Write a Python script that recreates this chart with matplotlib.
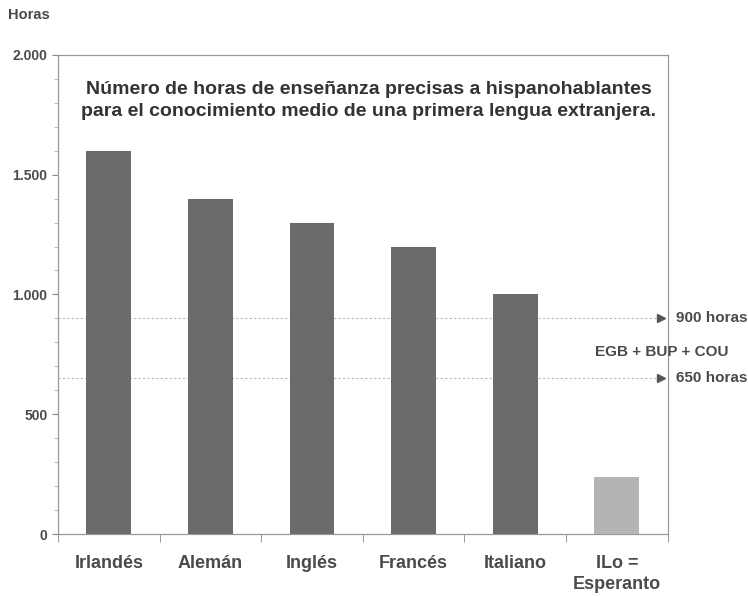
import matplotlib.pyplot as plt
import matplotlib.transforms as mtransforms
from matplotlib.ticker import FuncFormatter, MultipleLocator

categorias = ['Irlandés', 'Alemán', 'Inglés', 'Francés', 'Italiano', 'ILo =\nEsperanto']
horas = [1600, 1400, 1300, 1200, 1000, 240]
colores = ['#6b6b6b'] * 5 + ['#b4b4b4']
limites = [900, 650]
limites_txt = ['900 horas', '650 horas']

plt.rcParams['font.family'] = ['Liberation Sans', 'DejaVu Sans']
gris = '#4a4a4a'

fig = plt.figure(figsize=(7.48, 5.96), dpi=100)
ax = fig.add_axes([0.0775, 0.104, 0.815, 0.804])

x = range(len(categorias))
ax.bar(x, horas, width=0.44, color=colores, zorder=3)

ax.set_xlim(-0.5, len(categorias) - 0.5)
ax.set_ylim(0, 2000)
ax.yaxis.set_major_locator(MultipleLocator(500))
ax.yaxis.set_minor_locator(MultipleLocator(100))
ax.yaxis.set_major_formatter(FuncFormatter(lambda v, p: f'{int(v):,}'.replace(',', '.')))
ax.set_xticks([i + 0.5 for i in range(-1, len(categorias))], minor=True)
ax.set_xticks(list(x))
ax.set_xticklabels(categorias, fontsize=13, fontweight='bold', color=gris,
                   linespacing=1.3)
ax.tick_params(axis='x', which='major', length=0, pad=15)
ax.tick_params(axis='x', which='minor', length=6, color='#888888', direction='out')
ax.tick_params(axis='y', which='major', labelsize=10, labelcolor=gris, length=4, color='#888888')
ax.tick_params(axis='y', which='minor', length=3, color='#aaaaaa')
for lab in ax.get_yticklabels():
    lab.set_fontweight('bold')
for s in ax.spines.values():
    s.set_color('#999999')
    s.set_linewidth(0.9)

# lineas de referencia
trans = mtransforms.blended_transform_factory(ax.transAxes, ax.transData)
for v, t in zip(limites, limites_txt):
    ax.plot([0, 0.985], [v, v], transform=trans, color='#bbbbbb', lw=0.8,
            linestyle=(0, (2, 2)), clip_on=False, zorder=1)
    ax.plot([0.99], [v], transform=trans, marker='>', color='#555555',
            markersize=6, clip_on=False, zorder=4)
    ax.text(1.013, v, t, transform=trans, fontsize=11, fontweight='bold',
            color=gris, va='center', ha='left')
ax.text(0.99, 760, 'EGB + BUP + COU', transform=trans, fontsize=11,
        fontweight='bold', color=gris, va='center', ha='center')

ax.text(0.51, 0.945, 'Número de horas de enseñanza precisas a hispanohablantes\n'
        'para el conocimiento medio de una primera lengua extranjera.',
        transform=ax.transAxes, ha='center', va='top', fontsize=14,
        fontweight='bold', color='#333333', linespacing=1.35)

fig.text(0.011, 0.975, 'Horas', fontsize=10.5, fontweight='bold', color=gris,
         va='center', ha='left')

plt.savefig('out.png', dpi=100)
